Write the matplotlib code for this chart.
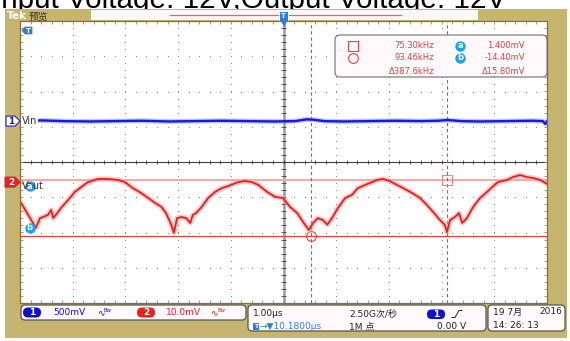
import numpy as np
import matplotlib.pyplot as plt
from matplotlib.patches import Rectangle, FancyBboxPatch, Polygon
from matplotlib.transforms import blended_transform_factory

W, H = 570, 341

# scope screen in figure pixels
SX0, SX1, SY0, SY1 = 20, 547, 21, 303

# timebase: 1 us/div, 10 div, trigger delay at centre
t_div = 1.00
t_delay = 10.18
# vertical: mV/div and position (div) of each channel
ch1_scale = 500.0
ch2_scale = 10.0
ch1_pos = 1.16
ch2_pos = -0.65

# Vin (ch1), us / mV
vin_t = [5.18, 5.60, 6.00, 6.50, 7.00, 7.50, 8.00, 8.50, 9.00, 9.50, 10.00, 10.40,
         10.62, 10.75, 10.95, 11.30, 11.80, 12.30, 12.80, 13.10, 13.30, 13.55,
         13.90, 14.40, 14.90, 15.10, 15.15, 15.18]
vin_mv = [0, 10, 0, -5, 0, 5, -5, 0, 5, 0, -5, 0,
          25, 20, 0, -5, 0, 5, 0, 5, 15, 0,
          -5, 0, 5, 0, -40, -10]

# Vout ripple (ch2), us / mV
vout_t = [5.20, 5.48, 5.56, 5.62, 5.71, 5.77, 5.81, 5.86, 5.96, 6.09,
          6.22, 6.34, 6.47, 6.66, 6.85, 7.04, 7.17, 7.32, 7.48, 7.61,
          7.74, 7.86, 7.95, 8.05, 8.10, 8.16, 8.24, 8.33, 8.41, 8.46,
          8.52, 8.63, 8.75, 8.88, 9.01, 9.13, 9.32, 9.45, 9.58, 9.70,
          9.87, 10.02, 10.17, 10.30, 10.44, 10.55, 10.66, 10.74, 10.83, 10.93,
          11.01, 11.10, 11.21, 11.35, 11.48, 11.59, 11.73, 11.86, 11.95, 12.07,
          12.20, 12.33, 12.45, 12.62, 12.77, 12.90, 13.02, 13.15, 13.24, 13.28,
          13.34, 13.43, 13.51, 13.57, 13.66, 13.78, 13.91, 14.04, 14.14, 14.25,
          14.42, 14.53, 14.67, 14.80, 14.91, 15.05, 15.18]
vout_mv = [-5.1, -12.2, -9.4, -9.1, -8.5, -7.1, -9.4, -8.5, -6.5, -4.3,
           -2.0, -0.6, 0.8, 1.7, 1.7, 1.4, 0.8, -0.9, -2.3, -3.7,
           -5.1, -6.2, -8.0, -11.3, -13.6, -9.4, -9.1, -9.4, -10.8, -8.5,
           -8.0, -6.2, -3.7, -2.0, -0.9, -0.3, 0.8, 1.1, 0.8, 0.0,
           -2.0, -3.4, -3.7, -6.2, -8.0, -10.5, -12.8, -10.8, -9.4, -10.0,
           -11.3, -9.4, -6.6, -3.7, -2.8, -0.9, 0.0, 0.8, 1.4, 1.7,
           1.1, 0.0, -0.9, -2.3, -3.7, -5.7, -7.7, -10.0, -11.3, -13.4,
           -10.0, -9.1, -8.0, -10.8, -9.4, -6.2, -3.7, -2.0, -0.6, 0.8,
           1.4, 2.2, 2.8, 2.2, 2.0, 1.4, 0.3]

# cursor readouts
cur_sq_khz = 75.30
cur_ci_khz = 93.46
cur_a_mv = 1.400
cur_b_mv = -14.40

OLIVE = '#C5B56E'
RED = '#EE1C1C'
CUR = '#E84040'
CYAN = '#1BA3E8'
TBLUE = '#2A7DE1'

fig = plt.figure(figsize=(W / 100, H / 100), dpi=100)

bg = fig.add_axes([0, 0, 1, 1])
bg.set_xlim(0, W)
bg.set_ylim(H, 0)
bg.axis('off')

bg.text(506, 8.5, 'Input Voltage: 12V,Output Voltage: 12V', ha='right', va='baseline',
        fontsize=21.3, family='Liberation Sans', color='black', zorder=0)
bg.add_patch(Rectangle((5, 9), 562, 329, fc=OLIVE, ec='none', zorder=1))

# header strip
bg.text(7, 19, 'Tek', color='white', fontweight='bold', fontsize=7.5, va='baseline', zorder=2)
bg.text(29, 19.5, '预览', color='#3a3020', fontsize=7, va='baseline',
        family=['Noto Sans CJK SC', 'DejaVu Sans'], zorder=2)
bg.add_patch(Rectangle((91, 10), 387, 10, fc='#FFF7FA', ec='none', zorder=2))
bg.plot([170, 401], [15, 15], color='#F06060', lw=0.9, zorder=3)
bg.add_patch(Rectangle((279, 11), 9, 10, fc=TBLUE, ec='white', lw=0.7, zorder=4))
bg.text(283.5, 16.3, 'T', color='white', fontsize=5, fontweight='bold', ha='center', va='center', zorder=5)

# screen
scr = fig.add_axes([SX0 / W, 1 - SY1 / H, (SX1 - SX0) / W, (SY1 - SY0) / H])
t0 = t_delay - 5 * t_div
t1 = t_delay + 5 * t_div
scr.set_xlim(t0, t1)
scr.set_ylim(-4, 4)
scr.set_facecolor('white')
scr.set_xticks([])
scr.set_yticks([])
for s in scr.spines.values():
    s.set_color('#8C6D3F')
    s.set_linewidth(0.9)
scr.set_zorder(1)

px_x = t_div * 10 / (SX1 - SX0)   # us per pixel
px_y = 8.0 / (SY1 - SY0)          # div per pixel
minor_x = t0 + np.arange(0, 50.5) * t_div / 5
minor_y = np.arange(-4, 4.01, 0.2)

for i in range(1, 10):
    if i == 5:
        continue
    x = t0 + i * t_div
    scr.plot(np.full(minor_y.size, x), minor_y, ls='none', marker='s', ms=0.75,
             mew=0, color='#8a8a8a')
for j in range(-3, 4):
    if j == 0:
        continue
    scr.plot(minor_x, np.full(minor_x.size, j), ls='none', marker='s', ms=0.75,
             mew=0, color='#8a8a8a')

# centre cross with minor ticks
scr.axvline(t_delay, color='#9a9a9a', lw=1.8)
scr.axhline(0, color='#404040', lw=0.8)
scr.vlines(minor_x, -2.2 * px_y, 2.2 * px_y, color='#404040', lw=0.6)
scr.hlines(minor_y, t_delay - 2.5 * px_x, t_delay + 2.5 * px_x, color='#404040', lw=0.6)

# edge ticks
scr.vlines(minor_x, -4, -4 + 3 * px_y, color='#8a8a8a', lw=0.6)
scr.vlines(minor_x, 4 - 3 * px_y, 4, color='#8a8a8a', lw=0.6)
scr.hlines(minor_y, t0, t0 + 3 * px_x, color='#8a8a8a', lw=0.6)
scr.hlines(minor_y, t1 - 3 * px_x, t1, color='#8a8a8a', lw=0.6)

# cursors
t_sq = 1000.0 / cur_sq_khz
t_ci = 1000.0 / cur_ci_khz
ya = ch2_pos + cur_a_mv / ch2_scale
yb = ch2_pos + cur_b_mv / ch2_scale
scr.axhline(ya, color='#F7A8A8', lw=1.4)
scr.axhline(yb, color=CUR, lw=0.9)
scr.axvline(t_sq, color=CUR, lw=0.8, ls=(0, (3, 2.5)))
scr.axvline(t_ci, color=CUR, lw=0.8, ls=(0, (3, 2.5)))
scr.plot(t_sq, ya, marker='s', ms=7, mfc='none', mec='#F08080', mew=0.8)
scr.plot(t_ci, yb, marker='o', ms=7, mfc='none', mec=CUR, mew=0.8)

# traces
vy = ch1_pos + np.array(vin_mv) / ch1_scale
scr.plot(vin_t, vy, color='#8080F0', lw=3.6, alpha=0.45)
scr.plot(vin_t, vy, color='#1818E0', lw=1.7)
ry = ch2_pos + np.array(vout_mv) / ch2_scale
scr.plot(vout_t, ry, color='#F8A0A0', lw=3.8, alpha=0.55)
scr.plot(vout_t, ry, color=RED, lw=1.3)

# overlay in pixels
ov = fig.add_axes([0, 0, 1, 1])
ov.set_xlim(0, W)
ov.set_ylim(H, 0)
ov.axis('off')
ov.set_zorder(2)
tr = blended_transform_factory(ov.transData, scr.transData)

h5 = 5 * px_y
ov.add_patch(Polygon([(6, ch1_pos - h5), (15, ch1_pos - h5), (20, ch1_pos),
                      (15, ch1_pos + h5), (6, ch1_pos + h5)], closed=True,
                     fc='white', ec='#2020C0', lw=0.8, transform=tr))
ov.text(11, ch1_pos, '1', color='#2020C0', fontsize=6.5, fontweight='bold',
        ha='center', va='center', transform=tr)
ov.text(22, ch1_pos, 'Vin', color='#303030', fontsize=7, va='center', transform=tr,
        bbox=dict(fc='white', ec='none', pad=0.6))

ov.add_patch(Polygon([(5, ch2_pos + 0.08 - h5), (15, ch2_pos + 0.08 - h5), (20, ch2_pos + 0.08),
                      (15, ch2_pos + 0.08 + h5), (5, ch2_pos + 0.08 + h5)], closed=True,
                     fc='#E82020', ec='#E82020', lw=0.8, transform=tr))
ov.text(11, ch2_pos + 0.08, '2', color='white', fontsize=6.5, fontweight='bold',
        ha='center', va='center', transform=tr)
ov.text(22, ch2_pos - 0.02, 'Vout', color='#303030', fontsize=7, va='center', transform=tr)

for lab, yy in (('a', ya - 0.18), ('b', yb + 0.23)):
    ov.plot([29.7], [yy], marker='o', ms=7.5, color=CYAN, mew=0, transform=tr)
    ov.text(29.7, yy, lab, color='white', fontsize=6, fontweight='bold',
            ha='center', va='center', transform=tr)

# trigger markers
ov.add_patch(Polygon([(22, 30.5), (25, 27), (32, 27), (32, 34), (25, 34)], closed=True,
                     fc=TBLUE, ec=TBLUE, lw=0.5))
ov.text(28, 30.8, 'T', color='white', fontsize=5, fontweight='bold', ha='center', va='center')
ov.plot([283.5], [23.5], marker='v', ms=5, color=TBLUE, mew=0)

# cursor readout box
ov.add_patch(FancyBboxPatch((335, 35), 212, 42, boxstyle='round,pad=0,rounding_size=5',
                            fc='#FFF9FB', ec='#707070', lw=0.8))
ro = dict(fontsize=6, color=CUR, va='center', ha='right')
ov.plot([353], [45.5], marker='s', ms=6.5, mfc='none', mec=CUR, mew=0.8)
ov.plot([353], [58], marker='o', ms=7, mfc='none', mec=CUR, mew=0.8)
ov.text(434, 45.5, f'{cur_sq_khz:.2f}kHz', **ro)
ov.text(434, 58, f'{cur_ci_khz:.2f}kHz', **ro)
ov.text(434, 71, 'Δ387.6kHz', **ro)
for lab, yy in (('a', 45.5), ('b', 58)):
    ov.plot([460], [yy], marker='o', ms=7.5, color=CYAN, mew=0)
    ov.text(460, yy, lab, color='white', fontsize=6, fontweight='bold', ha='center', va='center')
ov.text(525, 45.5, f'{cur_a_mv:.3f}mV', **ro)
ov.text(525, 58, f'{cur_b_mv:.2f}mV', **ro)
ov.text(525, 71, 'Δ15.80mV', **ro)

# status bar
box = dict(boxstyle='round,pad=0,rounding_size=4', fc='#FFF9FB', ec='#555555', lw=0.9)
ov.add_patch(FancyBboxPatch((21, 305), 225, 15, **box))
ov.add_patch(FancyBboxPatch((248, 305), 238, 26, **box))
ov.add_patch(FancyBboxPatch((488, 305), 77, 26, **box))

cjk = ['DejaVu Sans', 'Noto Sans CJK SC']
st = dict(fontsize=6.5, va='center', family=cjk)
for cx, num, col, tx, txt in ((32, '1', '#1010D0', 53, f'{ch1_scale:.0f}mV'),
                              (146, '2', '#E82020', 166, f'{ch2_scale:.1f}mV')):
    ov.add_patch(FancyBboxPatch((cx - 9, 307.5), 18, 10, boxstyle='round,pad=0,rounding_size=5',
                                fc=col, ec='none'))
    ov.text(cx, 312.5, num, color='white', fontsize=6.5, fontweight='bold', ha='center', va='center')
    ov.text(tx, 312.5, txt, color=col, **st)
    ov.text(tx + 44, 313, '∿', color=col, fontsize=6.5, va='center')
    ov.text(tx + 51, 311, 'Bw', color=col, fontsize=3.8, va='center')

ov.text(253, 314, f'{t_div:.2f}µs', color='#222222', **st)
ov.text(349, 314, '2.50G次/秒', color='#222222', **st)
ov.add_patch(FancyBboxPatch((427, 309.5), 18, 9.5, boxstyle='round,pad=0,rounding_size=4.5',
                            fc='#1010D0', ec='none'))
ov.text(436, 314.3, '1', color='white', fontsize=6.5, fontweight='bold', ha='center', va='center')
ov.plot([452, 455, 459, 462], [317.5, 317.5, 310.5, 310.5], color='#222222', lw=0.7)

ov.add_patch(Rectangle((253, 323), 6, 7, fc=TBLUE, ec='none'))
ov.text(256, 326.7, 'T', color='white', fontsize=4.5, fontweight='bold', ha='center', va='center')
ov.text(260, 326.5, f'→▼{t_delay:.4f}µs', color=TBLUE, **st)
ov.text(349, 326.5, '1M 点', color='#222222', **st)
ov.text(466, 326.5, '0.00 V', color='#222222', ha='right', fontsize=6.5, va='center')

ov.text(493, 312, '19 7月', color='#222222', **st)
ov.text(562, 312, '2016', color='#222222', ha='right', fontsize=6.5, va='center')
ov.text(493, 325, '14: 26: 13', color='#222222', **st)

fig.savefig('out.png', dpi=100)
